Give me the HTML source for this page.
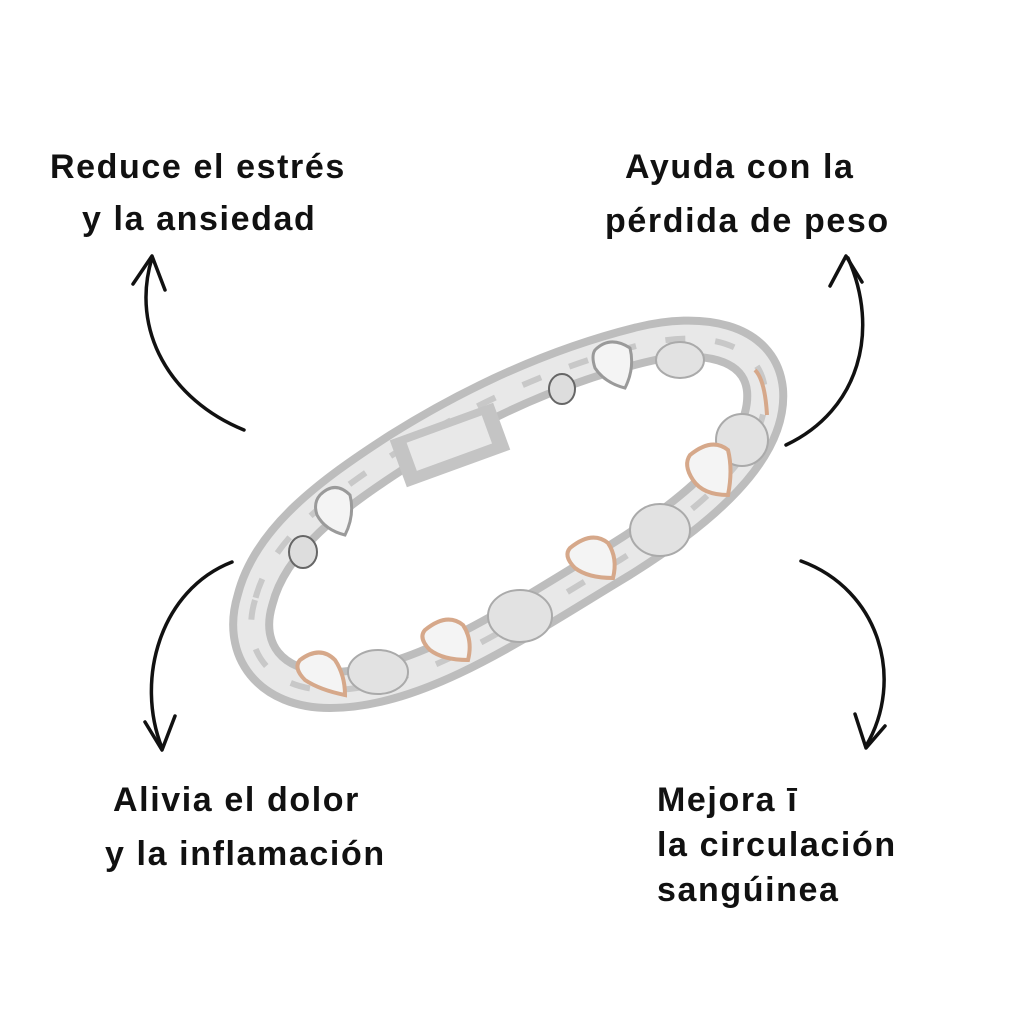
<!DOCTYPE html>
<html><head><meta charset="utf-8"><style>
html,body{margin:0;padding:0;background:#fff;}
.wrap{position:relative;width:1024px;height:1024px;overflow:hidden;background:#fff;}
.t{position:absolute;font-family:"Liberation Sans",sans-serif;font-weight:bold;font-size:34px;letter-spacing:1.6px;color:#111;white-space:nowrap;line-height:1;}
svg{position:absolute;left:0;top:0;}
</style></head><body><div class="wrap">
<svg width="1024" height="1024" viewBox="0 0 1024 1024">
<path id="b" d="M255,600 C240,650 270,690 330,690 C420,690 520,620 620,560 C700,510 770,450 765,390 C760,340 700,330 640,345 C560,365 480,400 400,450 C330,495 270,540 255,600 Z" fill="none" stroke="#bdbdbd" stroke-width="44"/>
<path d="M255,600 C240,650 270,690 330,690 C420,690 520,620 620,560 C700,510 770,450 765,390 C760,340 700,330 640,345 C560,365 480,400 400,450 C330,495 270,540 255,600 Z" fill="none" stroke="#e8e8e8" stroke-width="28"/>
<path d="M255,600 C240,650 270,690 330,690 C420,690 520,620 620,560 C700,510 770,450 765,390 C760,340 700,330 640,345 C560,365 480,400 400,450 C330,495 270,540 255,600 Z" fill="none" stroke="#c8c8c8" stroke-width="6" stroke-dasharray="20 30"/>
<rect x="395" y="420" width="110" height="50" fill="#c4c4c4" transform="rotate(-20 450 445)"/>
<rect x="410" y="428" width="80" height="30" fill="#e8e8e8" transform="rotate(-20 450 445)"/>
<ellipse cx="303" cy="552" rx="14" ry="16" fill="#ddd" stroke="#666" stroke-width="2"/>
<ellipse cx="562" cy="389" rx="13" ry="15" fill="#ddd" stroke="#666" stroke-width="2"/>
<g fill="#e2e2e2" stroke="#aaa" stroke-width="2">
<ellipse cx="378" cy="672" rx="30" ry="22"/>
<ellipse cx="520" cy="616" rx="32" ry="26"/>
<ellipse cx="660" cy="530" rx="30" ry="26"/>
<ellipse cx="742" cy="440" rx="26" ry="26"/>
<ellipse cx="680" cy="360" rx="24" ry="18"/>
</g>
<g fill="#f4f4f4" stroke="#d6a88a" stroke-width="4">
<path d="M300,660 q20,-15 35,0 q10,15 10,35 q-25,-5 -40,-15 q-12,-12 -5,-20z"/>
<path d="M425,630 q22,-18 38,-5 q10,15 5,35 q-25,0 -38,-10 q-12,-12 -5,-20z"/>
<path d="M570,548 q22,-18 38,-5 q10,15 5,35 q-25,0 -38,-10 q-12,-12 -5,-20z"/>
<path d="M690,455 q22,-18 38,-5 q5,20 0,45 q-25,0 -35,-15 q-10,-15 -3,-25z"/>
<path d="M755,370 q10,10 12,45" fill="none"/>
</g>
<g fill="#f4f4f4" stroke="#9a9a9a" stroke-width="3">
<path d="M320,495 q15,-15 30,0 q5,20 -5,40 q-20,-5 -28,-20 q-4,-12 3,-20z"/>
<path d="M595,350 q15,-15 35,-2 q5,20 -5,40 q-20,-5 -30,-20 q-4,-12 0,-18z"/>
</g>
<g fill="none" stroke="#111" stroke-width="3.5" stroke-linecap="round" stroke-linejoin="round">
<path d="M244,430 C170,400 130,330 152,258"/>
<path d="M133,284 L152,256 L165,290"/>
<path d="M786,445 C860,410 880,330 848,258"/>
<path d="M830,286 L846,256 L862,282"/>
<path d="M232,562 C160,590 135,680 162,748"/>
<path d="M145,722 L162,750 L175,716"/>
<path d="M801,561 C880,590 905,680 866,746"/>
<path d="M855,714 L866,748 L885,726"/>
</g>
</svg>
<div class="t" style="left:50px;top:150px;">Reduce el estrés</div>
<div class="t" style="left:82px;top:202px;">y la ansiedad</div>
<div class="t" style="left:625px;top:150px;">Ayuda con la</div>
<div class="t" style="left:605px;top:204px;">pérdida de peso</div>
<div class="t" style="left:113px;top:783px;">Alivia el dolor</div>
<div class="t" style="left:105px;top:837px;">y la inflamación</div>
<div class="t" style="left:657px;top:783px;">Mejora ī</div>
<div class="t" style="left:657px;top:828px;">la circulación</div>
<div class="t" style="left:657px;top:873px;">sangúinea</div>
</div></body></html>
